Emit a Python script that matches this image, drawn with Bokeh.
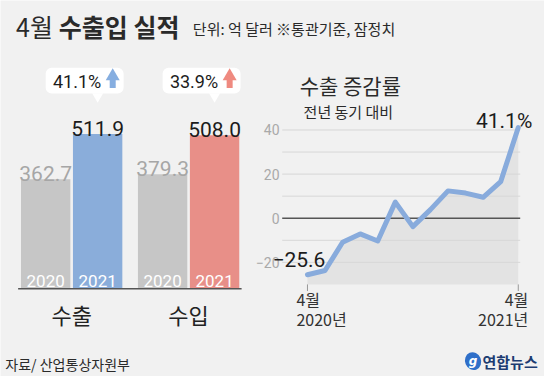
from bokeh.plotting import figure
from bokeh.models import Range1d, Label
from bokeh.core.properties import value
from bokeh.embed import file_html
from bokeh.resources import INLINE

# ---------------- data ----------------
groups = ["수출", "수입"]
years = ["2020", "2021"]
export_vals = [362.7, 511.9]
import_vals = [379.3, 508.0]
change_labels = ["41.1%", "33.9%"]

month_labels = ["4월", "5월", "6월", "7월", "8월", "9월", "10월", "11월", "12월",
                "1월", "2월", "3월", "4월"]
year_labels = ["2020년", "", "", "", "", "", "", "", "", "", "", "", "2021년"]
growth = [-25.6, -23.7, -10.9, -7.1, -10.3, 7.3, -3.8, 3.9, 12.4, 11.4, 9.5, 16.6, 41.1]
tick_vals = [-20, 0, 20, 40]
tick_text = ["−20", "0", "20", "40"]
grid_vals = [-20, -10, 10, 20, 30, 40]

# ---------------- styles ----------------
W, H = 544, 376
SX, SY = W / 560, H / 392          # reference layout -> figure pixels
BG = "#f1f1f1"
KR = "Noto Sans CJK KR"
NUM = "Roboto"
GRAY_BAR = "#c6c6c6"
BLUE = "#8aadda"
RED = "#e88f88"
LINE_BLUE = "#88abdc"

def fx(rx):
    return rx * SX

def fy(ry):           # pixels from bottom
    return H - ry * SY

# bar area scale
BAR_UNIT = 53.5 * SX
BAR_X0 = fx(46.5)
BAR_PX = 0.315 * SY
BAR_BASE = fy(300.5)

# line area scale
LN_UNIT = 217 / 12 * SX
LN_X0 = fx(316)
LN_PX = 2.3 * SY
LN_ZERO = fy(227)

p = figure(width=W, height=H, output_backend="svg", toolbar_location=None,
           x_axis_location=None, y_axis_location=None,
           x_range=Range1d(-BAR_X0 / BAR_UNIT, (W - BAR_X0) / BAR_UNIT),
           y_range=Range1d(-BAR_BASE / BAR_PX, (H - BAR_BASE) / BAR_PX),
           min_border=0, background_fill_color=BG, border_fill_color=BG,
           outline_line_color=None)
p.grid.visible = False
p.extra_x_ranges = {"ln": Range1d(-LN_X0 / LN_UNIT, (W - LN_X0) / LN_UNIT)}
p.extra_y_ranges = {"ln": Range1d(-LN_ZERO / LN_PX, (H - LN_ZERO) / LN_PX)}

def by(ry):
    return (fy(ry) - BAR_BASE) / BAR_PX

def lx(rx):
    return (fx(rx) - LN_X0) / LN_UNIT

def ly(ry):
    return (fy(ry) - LN_ZERO) / LN_PX

# ---------------- bars ----------------
bar_x, bar_top, bar_col, val_col, bar_year = [], [], [], [], []
for g, vals in enumerate([export_vals, import_vals]):
    for j, v in enumerate(vals):
        bar_x.append(g * 2.25 + j)
        bar_top.append(v)
        bar_year.append(years[j])
        bar_col.append(GRAY_BAR if j == 0 else (BLUE if g == 0 else RED))
        val_col.append("#a6a6a6" if j == 0 else "#1c1c1c")

p.vbar(x=bar_x, top=bar_top, width=0.95, bottom=0, fill_color=bar_col, line_color=None)
p.segment(x0=[min(bar_x) - 0.53], x1=[max(bar_x) + 0.52], y0=[0], y1=[0],
          line_color="#555555", line_width=1.5)
p.text(x=bar_x, y=bar_top, text=[f"{v:.1f}" for v in bar_top], text_align="center",
       text_baseline="alphabetic", y_offset=-6, text_font=value(NUM), text_font_size="21px",
       text_color=val_col)
p.text(x=bar_x, y=[0] * 4, text=bar_year, text_align="center", text_baseline="alphabetic",
       y_offset=-8, text_font=value(NUM), text_font_size="17px", text_color="white")
p.text(x=[g * 2.25 + 0.5 for g in range(2)], y=[0, 0], text=groups, text_align="center",
       text_baseline="middle", y_offset=25, text_font=value(KR), text_font_size="22px",
       text_color="#222222")

# callouts
for g in range(2):
    left = g * 2.25
    p.quad(left=[left], right=[left + 1.5], bottom=[by(97)], top=[by(70)],
           fill_color="white", line_color=None, border_radius=6)
    p.scatter(x=[left + 1], y=[by(100)], marker="inverted_triangle", size=11,
              fill_color="white", line_color=None)
    p.text(x=[left + 0.14], y=[by(84)], text=[change_labels[g]], text_align="left",
           text_baseline="middle", text_font=value(NUM), text_font_size="18px",
           text_color="#1c1c1c")
    acol = "#86aee0" if g == 0 else "#ef8a80"
    p.scatter(x=[left + 1.29], y=[by(79)], marker="triangle", size=14,
              fill_color=acol, line_color=None)
    p.rect(x=[left + 1.29], y=[by(87)], width=6, height=8, width_units="screen",
           height_units="screen", fill_color=acol, line_color=None)

# ---------------- line chart ----------------
idx = list(range(len(growth)))
p.varea(x=idx, y1=[-30] * len(idx), y2=growth, fill_color="#e3e3e3",
        x_range_name="ln", y_range_name="ln")
gx0, gx1 = lx(290), lx(535)
p.segment(x0=[gx0] * len(grid_vals), x1=[gx1] * len(grid_vals), y0=grid_vals, y1=grid_vals,
          line_color="#d7d7d7", line_width=1, x_range_name="ln", y_range_name="ln")
p.segment(x0=[gx0], x1=[gx1], y0=[0], y1=[0], line_color="#555555", line_width=1.5,
          x_range_name="ln", y_range_name="ln")
p.segment(x0=[idx[0], idx[-1]], x1=[idx[0], idx[-1]], y0=[-30, -30], y1=[-33, -33],
          line_color="#999999", line_width=1, x_range_name="ln", y_range_name="ln")
p.line(idx, growth, line_color=LINE_BLUE, line_width=5, line_join="round",
       line_cap="round", x_range_name="ln", y_range_name="ln")
p.text(x=[gx0 - 0.15] * len(tick_vals), y=tick_vals, text=tick_text, text_align="right",
       text_baseline="middle", text_font=value(NUM), text_font_size="14px",
       text_color="#a9a9a9", x_range_name="ln", y_range_name="ln")
ends = [0, len(growth) - 1]
for k, (xo, al) in enumerate([(-11, "left"), (10, "right")]):
    i = ends[k]
    p.text(x=[i], y=[-30], text=[month_labels[i]], text_align=al, text_baseline="middle",
           x_offset=xo, y_offset=15, text_font=value(KR), text_font_size="16px",
           text_color="#333333", x_range_name="ln", y_range_name="ln")
    p.text(x=[i], y=[-30], text=[year_labels[i]], text_align=al, text_baseline="middle",
           x_offset=xo, y_offset=35, text_font=value(KR), text_font_size="16px",
           text_color="#333333", x_range_name="ln", y_range_name="ln")
p.text(x=[ends[0]], y=[growth[0]], text=[f"−{abs(growth[0]):.1f}"], text_align="left",
       text_baseline="alphabetic", x_offset=-35, y_offset=-15, text_font=value(NUM),
       text_font_size="21px", text_color="#1c1c1c", x_range_name="ln", y_range_name="ln")
p.text(x=[ends[1]], y=[growth[-1]], text=[f"{growth[-1]:.1f}%"], text_align="right",
       text_baseline="alphabetic", x_offset=14, y_offset=-7, text_font=value(NUM),
       text_font_size="21px", text_color="#1c1c1c", x_range_name="ln", y_range_name="ln")

# logo
p.ellipse(x=[lx(486.5)], y=[ly(376)], width=16, height=18, width_units="screen",
          height_units="screen", angle=0.4, fill_color="#2f6fc9", line_color=None,
          x_range_name="ln", y_range_name="ln")
p.text(x=[lx(486.5)], y=[ly(376)], text=["g"], text_align="center", text_baseline="middle",
       text_font=value("DejaVu Sans"), text_font_size="12px", text_font_style="bold italic",
       text_color="white", x_range_name="ln", y_range_name="ln")

# ---------------- titles (screen labels) ----------------
def lab(text, rx, ry, size, font=KR, style="normal", color="#2a2a2a", align="left"):
    p.add_layout(Label(x=fx(rx), y=fy(ry), x_units="screen", y_units="screen", text=text,
                       text_font=font, text_font_size=size, text_font_style=style,
                       text_color=color, text_baseline="middle", text_align=align))

lab("4월", 16, 27, "25px")
lab("수출입 실적", 60, 27, "25px", style="bold")
lab("단위: 억 달러  ※통관기준, 잠정치", 198, 29, "15px")
lab("수출 증감률", 308, 88, "21px")
lab("전년 동기 대비", 312, 116, "15px")
lab("자료/ 산업통상자원부", 5, 379, "14px")
lab("연합뉴스", 553, 376, "15px", style="bold", color="#1d3c72", align="right")

open("out.html", "w").write(file_html(p, INLINE))
